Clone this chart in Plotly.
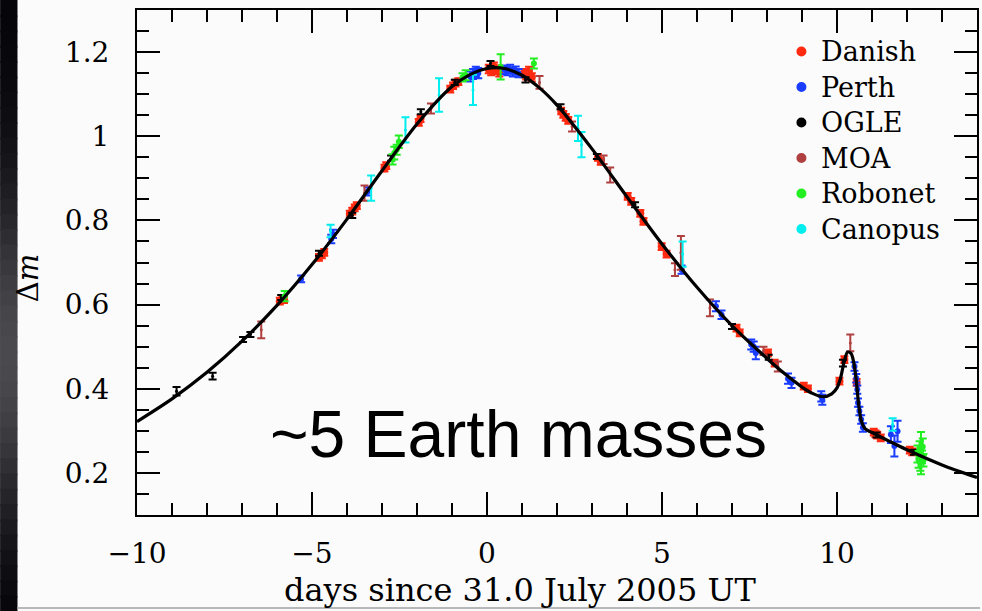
import plotly.graph_objects as go

# Model light curve of the event (days since 31.0 July 2005 UT, magnification in mag)
model_t = [-10, -9, -8, -7, -6, -5, -4, -3, -2, -1, -0.5, 0, 0.5, 1, 1.5, 2, 3, 4, 5, 6,
           7, 8, 8.5, 9, 9.3, 9.6, 9.85, 10.0, 10.1, 10.2, 10.3, 10.4, 10.48, 10.55,
           10.62, 10.7, 10.8, 11.0, 11.5, 12, 13, 14]
model_dm = [0.322, 0.376, 0.439, 0.513, 0.598, 0.695, 0.803, 0.918, 1.029, 1.118, 1.146,
            1.161, 1.161, 1.145, 1.115, 1.074, 0.970, 0.856, 0.744, 0.641, 0.550, 0.472,
            0.436, 0.404, 0.389, 0.381, 0.388, 0.402, 0.425, 0.462, 0.487, 0.484, 0.462,
            0.420, 0.362, 0.322, 0.305, 0.296, 0.275, 0.255, 0.219, 0.189]

# Photometry per observatory: time, delta-mag, 1-sigma error
danish_t = [-5.92, -5.85, -5.80, -4.80, -4.72, -4.65, -3.92, -3.85, -3.78, -3.72, -2.93, -2.88,
            -1.95, -1.90, -1.05, -0.97, -0.90, -0.82, 0.05, 0.12, 0.20, 0.28, 0.35,
            1.05, 1.12, 1.20, 1.28, 2.12, 2.18, 2.25, 2.32, 3.17, 3.25, 4.02, 4.12, 4.38,
            4.47, 4.99, 5.13, 7.13, 7.22, 8.03, 8.22, 9.05, 9.17, 10.07, 10.21, 10.56,
            11.05, 11.10, 11.15, 11.25, 12.08, 12.15]
danish_dm = [0.608, 0.615, 0.612, 0.712, 0.718, 0.724, 0.815, 0.822, 0.830, 0.835, 0.924, 0.930,
             1.033, 1.042, 1.112, 1.120, 1.126, 1.130, 1.160, 1.155, 1.165, 1.158, 1.152,
             1.150, 1.145, 1.155, 1.140, 1.060, 1.052, 1.045, 1.038, 0.950, 0.940, 0.857,
             0.845, 0.817, 0.798, 0.738, 0.720, 0.544, 0.533, 0.485, 0.461, 0.406, 0.400,
             0.418, 0.469, 0.415, 0.297, 0.293, 0.290, 0.283, 0.254, 0.250]
danish_err = [0.008] * 18 + [0.01] * 9 + [0.008] * 27

perth_t = [-5.31, -4.45, -4.40, -3.41, -0.48, -0.40, -0.32, -0.25, 0.50, 0.58, 0.66, 0.74,
           0.82, 0.90, 5.56, 6.54, 6.70, 7.55, 7.62, 7.68, 8.60, 8.70, 9.55, 9.58, 10.50,
           10.55, 10.58, 10.60, 10.64, 10.69, 10.74, 11.54, 11.64, 11.73]
perth_dm = [0.661, 0.756, 0.768, 0.869, 1.142, 1.148, 1.153, 1.150, 1.158, 1.155, 1.160, 1.152,
            1.156, 1.150, 0.683, 0.596, 0.576, 0.505, 0.500, 0.485, 0.424, 0.414, 0.382, 0.374,
            0.453, 0.425, 0.398, 0.367, 0.347, 0.327, 0.308, 0.291, 0.264, 0.299]
perth_err = [0.008, 0.01, 0.01, 0.01, 0.012, 0.012, 0.012, 0.012, 0.01, 0.01, 0.01, 0.01,
             0.01, 0.01, 0.01, 0.012, 0.01, 0.012, 0.012, 0.015, 0.012, 0.012, 0.012, 0.012,
             0.01, 0.01, 0.01, 0.01, 0.01, 0.01, 0.01, 0.02, 0.025, 0.025]

ogle_t = [-8.87, -7.84, -6.97, -6.76, -5.88, -4.80, -3.85, -2.74, -1.89, -0.92, 0.10, 1.10,
          2.10, 3.14, 4.23, 7.00, 8.05, 10.17, 11.13, 12.20]
ogle_dm = [0.394, 0.430, 0.517, 0.529, 0.617, 0.722, 0.812, 0.948, 1.058, 1.128, 1.173, 1.134,
           1.070, 0.952, 0.837, 0.548, 0.475, 0.461, 0.290, 0.249]
ogle_err = [0.01, 0.008, 0.006, 0.006, 0.006, 0.006, 0.006, 0.006, 0.006, 0.006, 0.006, 0.006,
            0.006, 0.006, 0.006, 0.006, 0.006, 0.008, 0.006, 0.006]

moa_t = [-6.45, -3.50, -1.60, 1.50, 2.43, 3.33, 3.52, 5.37, 5.54, 6.37, 7.90, 8.31, 10.38]
moa_dm = [0.540, 0.865, 1.066, 1.128, 1.023, 0.944, 0.908, 0.683, 0.723, 0.592, 0.490, 0.453, 0.509]
moa_err = [0.02, 0.018, 0.012, 0.015, 0.012, 0.01, 0.018, 0.015, 0.04, 0.02, 0.01, 0.012, 0.02]

robonet_t = [-5.78, -2.70, -2.65, -2.58, -2.52, -0.70, -0.61, 0.39, 1.34, 12.30, 12.33, 12.36,
             12.38, 12.40, 12.43, 12.45, 12.47]
robonet_dm = [0.620, 0.945, 0.960, 0.968, 0.987, 1.140, 1.145, 1.165, 1.173, 0.245, 0.232, 0.255,
              0.225, 0.247, 0.238, 0.262, 0.230]
robonet_err = [0.012, 0.012, 0.015, 0.012, 0.015, 0.01, 0.012, 0.03, 0.012, 0.02, 0.02, 0.02,
               0.02, 0.05, 0.015, 0.02, 0.015]

canopus_t = [-4.47, -3.31, -2.33, -1.37, -0.40, 2.60, 2.70, 5.59, 11.59]
canopus_dm = [0.775, 0.877, 1.015, 1.098, 1.110, 1.019, 0.980, 0.720, 0.315]
canopus_err = [0.015, 0.03, 0.03, 0.04, 0.036, 0.03, 0.03, 0.03, 0.015]

series = [
    ("Danish", danish_t, danish_dm, danish_err, "#ff2a10", 8),
    ("Perth", perth_t, perth_dm, perth_err, "#1a3cff", 6),
    ("OGLE", ogle_t, ogle_dm, ogle_err, "#000000", 3),
    ("MOA", moa_t, moa_dm, moa_err, "#b04040", 3),
    ("Robonet", robonet_t, robonet_dm, robonet_err, "#22ee22", 6),
    ("Canopus", canopus_t, canopus_dm, canopus_err, "#00eeee", 3),
]

fig = go.Figure()

for name, t, dm, err, color, msize in series:
    fig.add_trace(go.Scatter(
        x=t, y=dm, mode="markers", name=name, showlegend=False,
        marker=dict(color=color, size=msize, line=dict(width=0)),
        error_y=dict(type="data", array=err, color=color, thickness=2, width=4),
    ))

fig.add_trace(go.Scatter(
    x=model_t, y=model_dm, mode="lines", showlegend=False,
    line=dict(color="black", width=3.2, shape="spline", smoothing=0.8),
))

serif = "DejaVu Serif"

# Hand-placed key in the upper right corner
legend_y0, legend_dy = 51.5, 35.5
annotations = []
shapes = []
for i, (name, _, _, _, color, _) in enumerate(series):
    ypx = legend_y0 + i * legend_dy
    yp = (515 - ypx) / 505
    shapes.append(dict(type="circle", xref="paper", yref="paper",
                       xsizemode="pixel", ysizemode="pixel",
                       xanchor=(803 - 137) / 842, yanchor=yp,
                       x0=-5, x1=5, y0=-5, y1=5,
                       fillcolor=color, line=dict(width=0)))
    annotations.append(dict(xref="paper", yref="paper", x=(821 - 137) / 842, y=yp,
                            xanchor="left", yanchor="middle", showarrow=False,
                            text=name, font=dict(family=serif, size=27, color="black")))

annotations.append(dict(xref="paper", yref="paper", x=(519 - 137) / 842, y=(515 - 434) / 505,
                        xanchor="center", yanchor="middle", showarrow=False,
                        text="~5 Earth masses",
                        font=dict(family="Liberation Sans", size=66, color="black")))
annotations.append(dict(xref="paper", yref="paper", x=(521 - 137) / 842, y=-(590 - 515) / 505,
                        xanchor="center", yanchor="middle", showarrow=False,
                        text="days since 31.0 July 2005 UT",
                        font=dict(family=serif, size=32, color="black")))
annotations.append(dict(xref="paper", yref="paper", x=(28 - 137) / 842, y=(515 - 278) / 505,
                        xanchor="center", yanchor="middle", showarrow=False, textangle=-90,
                        text="Δ<i>m</i>",
                        font=dict(family=serif, size=29, color="black")))

# Dark sky strip along the left edge of the slide: a smooth vertical gradient.
# A solid dark base sits underneath so the bands never show seams.
strip_x0, strip_x1 = -137 / 842, (17 - 137) / 842
shapes.append(dict(type="rect", xref="paper", yref="paper", layer="below",
                   x0=strip_x0, x1=strip_x1, y0=-96 / 505, y1=1 + 10 / 505,
                   fillcolor="rgb(10,10,14)", line=dict(width=0)))
strip_grays = [6, 6, 7, 8, 9, 10, 12, 14, 16, 19, 22, 26, 30, 35, 40, 46, 52, 57, 62, 66,
               70, 72, 74, 74, 73, 71, 68, 64, 59, 54, 48, 42, 37, 32, 27, 22, 18, 14, 11, 8]
n = len(strip_grays)
for i, g in enumerate(strip_grays):
    y_top = 611 * i / n
    y_bot = 611 * (i + 1) / n + 2
    shapes.append(dict(type="rect", xref="paper", yref="paper", layer="below",
                       x0=strip_x0, x1=strip_x1,
                       y0=(515 - y_bot) / 505, y1=(515 - y_top) / 505,
                       fillcolor=f"rgb({g},{g},{g + 4})", line=dict(width=0)))
shapes.append(dict(type="line", xref="paper", yref="paper",
                   x0=strip_x1, x1=(982 - 137) / 842,
                   y0=-(608 - 515) / 505, y1=-(608 - 515) / 505,
                   line=dict(color="#b8b8b8", width=2)))

axis_common = dict(
    showline=True, linecolor="black", linewidth=2, mirror="ticks",
    ticks="inside", ticklen=23, tickwidth=2, tickcolor="black",
    showgrid=False, zeroline=False,
    tickfont=dict(family=serif, size=28, color="black"),
)

fig.update_xaxes(range=[-10, 14], dtick=5, tick0=0, ticklabelstandoff=12,
                 minor=dict(dtick=1, ticklen=12, tickwidth=2, ticks="inside", tickcolor="black"),
                 **axis_common)
fig.update_yaxes(range=[0.1, 1.3], dtick=0.2, tick0=0, ticklabelstandoff=20,
                 minor=dict(dtick=0.05, ticklen=12, tickwidth=2, ticks="inside", tickcolor="black"),
                 **axis_common)

fig.update_layout(
    width=982, height=611,
    margin=dict(l=137, r=3, t=10, b=96),
    paper_bgcolor="#fbfbfb", plot_bgcolor="#fbfbfb",
    annotations=annotations, shapes=shapes,
    showlegend=False,
)

fig.write_html("out.html")
